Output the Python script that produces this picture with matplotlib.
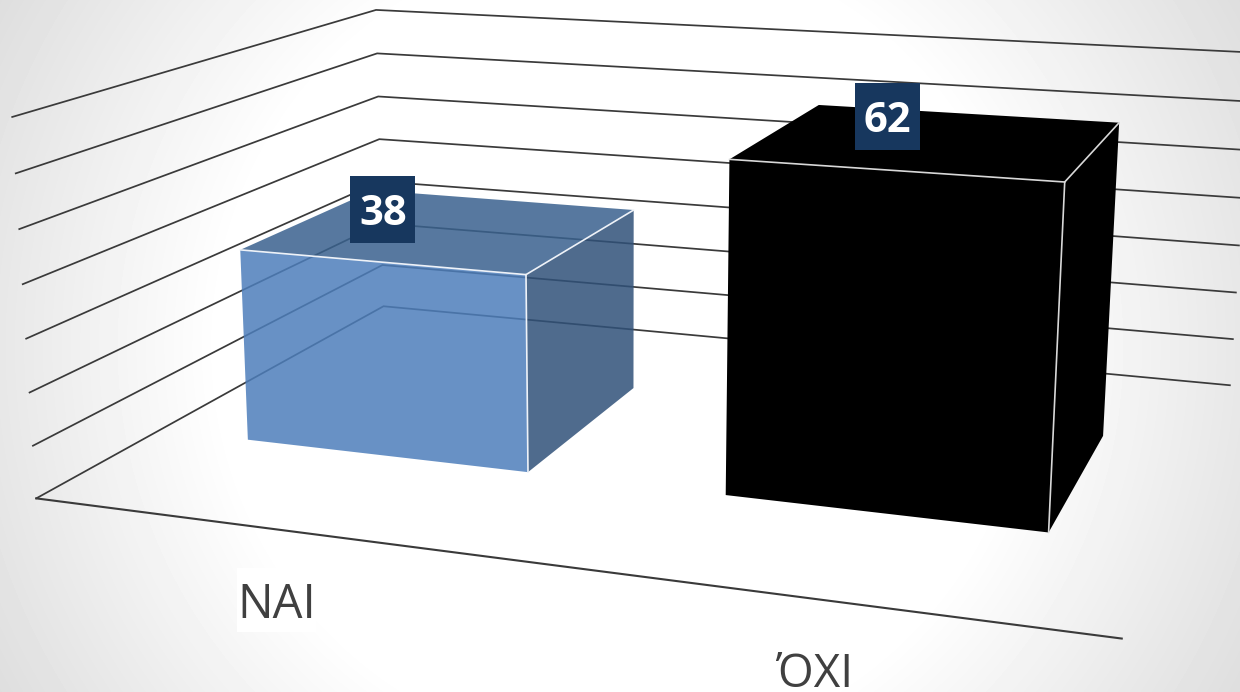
import numpy as np
import matplotlib
matplotlib.use("Agg")
import matplotlib.pyplot as plt
from matplotlib.patches import Polygon, Rectangle

# ---- data ----
categories = ["ΝΑΙ", "ΌΧΙ"]
values = [38, 62]
grid_levels = [0, 10, 20, 30, 40, 50, 60, 70]
bar_x0 = [0.199, 1.20]
bar_x1 = [0.803, 1.802]
bar_depth = (0.30, 0.70)

# ---- camera calibration: (category pos, depth, value) -> image pixel ----
world_pts = [(0,0,0),(2,0,0),(0,1,0),(2,1,0),(0,0,70),(0,1,70),(2,1,70),(0,0,40),(0,1,40),(2,1,40)]
pixel_pts = [(37,498),(1122,638),(383,306),(1230,386),(12,117),(377,10),(1251,52),(22,285),(379,139),(1242,198)]
A = []
for (x, y, z), (u, v) in zip(world_pts, pixel_pts):
    A.append([x, y, z, 1, 0, 0, 0, 0, -u*x, -u*y, -u*z, -u])
    A.append([0, 0, 0, 0, x, y, z, 1, -v*x, -v*y, -v*z, -v])
P = np.linalg.svd(np.array(A, float))[2][-1].reshape(3, 4)

def pr(x, y, z):
    p = P @ np.array([x, y, z, 1.0])
    return p[:2] / p[2]

def over_white(hexcol, a):
    t = np.array(matplotlib.colors.to_rgb(hexcol))
    return (*np.clip((t - (1 - a)) / a, 0, 1), a)

W, H = 1240, 692
fig = plt.figure(figsize=(W/100, H/100), dpi=100)
ax = fig.add_axes([0, 0, 1, 1])
ax.set_xlim(0, W); ax.set_ylim(H, 0); ax.axis("off")

# background radial gradient
yy, xx = np.mgrid[0:H, 0:W]
r = np.hypot(xx - 620, yy - 346)
g = 1 - np.clip((r - 400) / 311, 0, 1) * 0.13
ax.imshow(g, cmap="gray", vmin=0, vmax=1, extent=(0, W, H, 0), aspect="auto", zorder=0)

GRID = "#3a3a3a"
for z in grid_levels:
    pts = np.array([pr(0, 0, z), pr(0, 1, z), pr(2, 1, z)])
    ax.plot(pts[:, 0], pts[:, 1], color=GRID, lw=1.25, zorder=1, solid_joinstyle="miter")
pts = np.array([pr(0, 0, 0), pr(2, 0, 0)])
ax.plot(pts[:, 0], pts[:, 1], color=GRID, lw=1.5, zorder=1)

styles = [
    dict(front=over_white("#6891c5", .85), side=over_white("#4f6b8d", .85), top=over_white("#57799f", .85), edge="#eef2f8"),
    dict(front="black", side="black", top="black", edge="#d8d8d8"),
]
label_off = [(-61, -20), (-44.5, -24)]
y0, y1 = bar_depth
for i, v in enumerate(values):
    x0, x1 = bar_x0[i], bar_x1[i]
    s = styles[i]
    zo = 3 + i
    faces = [
        ([pr(x1,y0,0), pr(x1,y1,0), pr(x1,y1,v), pr(x1,y0,v)], s["side"]),
        ([pr(x0,y0,v), pr(x1,y0,v), pr(x1,y1,v), pr(x0,y1,v)], s["top"]),
        ([pr(x0,y0,0), pr(x1,y0,0), pr(x1,y0,v), pr(x0,y0,v)], s["front"]),
    ]
    for poly, col in faces:
        ax.add_patch(Polygon(poly, closed=True, facecolor=col, edgecolor="none", zorder=zo))
    for a, b in [((x0,y0,v),(x1,y0,v)), ((x1,y0,v),(x1,y1,v)), ((x1,y0,0),(x1,y0,v))]:
        q = np.array([pr(*a), pr(*b)])
        ax.plot(q[:, 0], q[:, 1], color=s["edge"], lw=1.2, zorder=zo + 0.1, solid_capstyle="round")
    c = pr((x0 + x1) / 2, (y0 + y1) / 2, v)
    lx, ly = c[0] + label_off[i][0], c[1] + label_off[i][1]
    ax.add_patch(Rectangle((lx - 32.5, ly - 33.5), 65, 67, facecolor="#17375e", edgecolor="none", zorder=6))
    ax.text(lx, ly + 5, str(v), color="white", fontsize=30, fontweight="bold", family="Open Sans",
            ha="center", va="center", zorder=7)

# category labels
ax.add_patch(Rectangle((237, 568), 79, 64, facecolor="white", edgecolor="none", zorder=2))
ax.text(277, 605, categories[0], color="#404040", fontsize=34, family="Open Sans",
        ha="center", va="center", zorder=3, clip_on=False)
ax.text(815, 675, categories[1], color="#404040", fontsize=33, family="Open Sans",
        ha="center", va="center", zorder=3, clip_on=True)

fig.savefig("out.png", dpi=100)
